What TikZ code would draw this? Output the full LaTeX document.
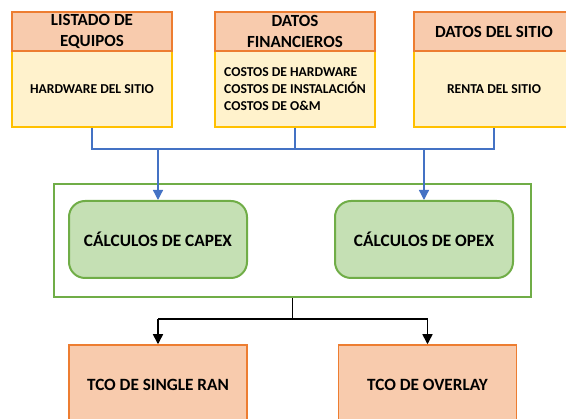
\documentclass[tikz,border=0pt]{standalone}
\usepackage{fontspec}
\setmainfont{Carlito}[BoldFont={Carlito Bold}]
\usetikzlibrary{arrows.meta}
\definecolor{hdrfill}{HTML}{F8CBAD}
\definecolor{hdrdraw}{HTML}{ED7D31}
\definecolor{bodyfill}{HTML}{FFF2CC}
\definecolor{bodydraw}{HTML}{FFC000}
\definecolor{grnfill}{HTML}{C5E0B4}
\definecolor{grndraw}{HTML}{70AD47}
\definecolor{blueline}{HTML}{4472C4}
\tikzset{
  hdr/.style={draw=hdrdraw, fill=hdrfill, line width=1.5pt, minimum width=160pt, minimum height=39pt, inner sep=0pt, align=center, font=\fontsize{17}{20.5}\selectfont\bfseries},
  bodybox/.style={draw=bodydraw, fill=bodyfill, line width=2pt, minimum width=160pt, minimum height=76pt, inner sep=0pt, font=\fontsize{13.6}{16.6}\selectfont\bfseries},
  grpbox/.style={draw=grndraw, line width=2pt, minimum width=477pt, minimum height=113pt, inner sep=0pt},
  calcbox/.style={draw=grndraw, fill=grnfill, line width=2pt, rounded corners=16pt, minimum width=178pt, minimum height=77pt, inner sep=0pt, font=\fontsize{17.3}{20}\selectfont\bfseries},
  tcobox/.style={draw=hdrdraw, fill=hdrfill, line width=1.5pt, minimum width=178pt, minimum height=80pt, inner sep=0pt, font=\fontsize{17.2}{20}\selectfont\bfseries},
  bluecon/.style={draw=blueline, line width=1.3pt},
  blackcon/.style={draw=black, line width=1.5pt},
  tip/.style={-{Triangle[length=10pt,width=10pt]}}
}
\begin{document}
\begin{tikzpicture}[x=1pt,y=-1pt]
\useasboundingbox (0,0) rectangle (566,419);
% top boxes
\node[bodybox] (b1) at (92,89) {HARDWARE DEL SITIO};
\node[hdr] (h1) at (92,31.5) {LISTADO DE\\EQUIPOS};
\node[bodybox, align=left] (b2) at (295,89) {COSTOS DE HARDWARE\\COSTOS DE INSTALACIÓN\\COSTOS DE O\&M};
\node[hdr] (h2) at (295,31.5) {DATOS\\FINANCIEROS};
\node[bodybox] (b3) at (494,89) {RENTA DEL SITIO};
\node[hdr] (h3) at (494,31.5) {DATOS DEL SITIO};
% middle
\node[grpbox] (grp) at (292.5,240.5) {};
\node[calcbox] (capex) at (158,239.5) {CÁLCULOS DE CAPEX};
\node[calcbox] (opex) at (424,239.5) {CÁLCULOS DE OPEX};
% bottom
\node[tcobox] (ran) at (158,385) {TCO DE SINGLE RAN};
\node[tcobox] (ovl) at (427.5,385) {TCO DE OVERLAY};
% blue bus
\coordinate (busy) at (0,149);
\draw[bluecon] (b1.south) -- (b1.south |- busy) -- (b3.south |- busy) -- (b3.south);
\draw[bluecon] (b2.south) -- (b2.south |- busy);
\draw[bluecon, tip, blueline] (capex.north |- busy) -- (capex.north);
\draw[bluecon, tip, blueline] (opex.north |- busy) -- (opex.north);
% black bus
\coordinate (busb) at (0,319);
\draw[blackcon] (grp.south) -- (grp.south |- busb);
\draw[blackcon, tip] (ran.north |- busb) -- (ovl.north |- busb) -- (ovl.north);
\draw[blackcon, tip] (ran.north |- busb) -- (ran.north);
\end{tikzpicture}
\end{document}
